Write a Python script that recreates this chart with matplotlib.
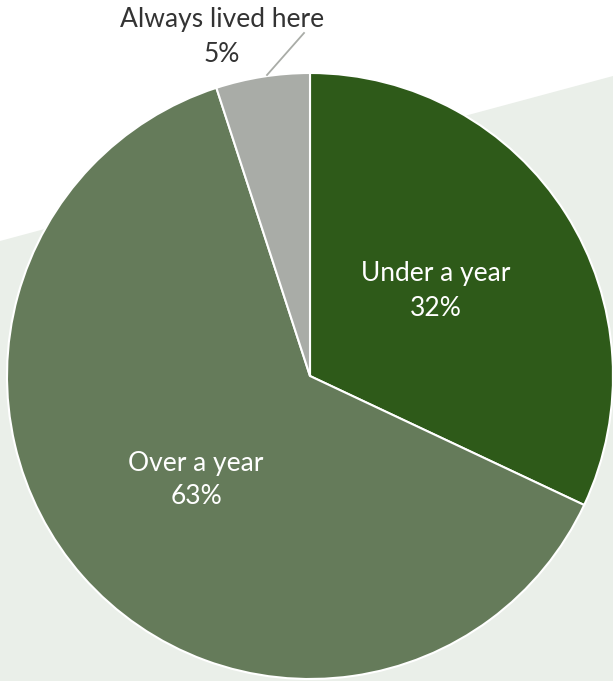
import matplotlib
matplotlib.use('Agg')
import matplotlib.pyplot as plt
from matplotlib.patches import Polygon

plt.rcParams['font.family'] = ['Lato', 'DejaVu Sans']

LABELS = ['Under a year', 'Over a year', 'Always lived here']
VALUES = [32, 63, 5]
COLORS = ['#2e5a19', '#657b5a', '#a9aca7']
BG = '#eaefe9'

W, H = 613, 681
CX, CY, R = 310, 305, 303

fig = plt.figure(figsize=(W / 100, H / 100), dpi=100)
ax = fig.add_axes([0, 0, 1, 1])

# slanted light band behind the pie
ax.add_patch(Polygon([(0, H - 241), (W, H - 76), (W, 0), (0, 0)],
                     closed=True, color=BG, lw=0, zorder=0))

wedges, _ = ax.pie(VALUES, colors=COLORS, startangle=90, counterclock=False,
                   radius=R, center=(CX, CY), frame=True,
                   wedgeprops=dict(edgecolor='white', linewidth=1.5))
ax.set_xlim(0, W)
ax.set_ylim(0, H)
ax.set_aspect('equal')
ax.axis('off')

fs = 19
ax.text(436, H - 291, f'{LABELS[0]}\n{VALUES[0]}%', ha='center', va='center',
        color='white', fontsize=fs, linespacing=1.45)
ax.text(196, H - 480, f'{LABELS[1]}\n{VALUES[1]}%', ha='center', va='center',
        color='white', fontsize=fs, linespacing=1.45)
ax.text(222, H - 37, f'{LABELS[2]}\n{VALUES[2]}%', ha='center', va='center',
        color='#333333', fontsize=fs, linespacing=1.45)
ax.plot([267, 304], [H - 75, H - 33], color='#a9aca7', lw=1.3)

fig.savefig('out.png', dpi=100, facecolor='white')
